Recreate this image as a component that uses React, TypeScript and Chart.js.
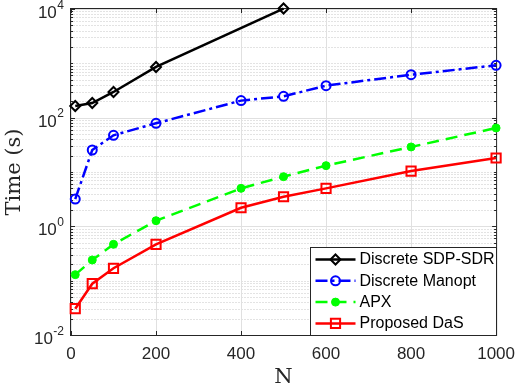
import React, { useEffect, useRef } from 'react';
import { Chart, registerables } from 'chart.js';

Chart.register(...registerables);

// ---- data ----
const N_SDP = [10, 50, 100, 200, 500];
const T_SDP = [164, 186, 297, 857, 10200];
const N_ALL = [10, 50, 100, 200, 400, 500, 600, 800, 1000];
const T_MANOPT = [3.18, 25.4, 47.4, 78.8, 206, 247, 388, 618, 920];
const T_APX = [0.129, 0.24, 0.467, 1.27, 5.0, 8.2, 13.1, 28.9, 64.6];
const T_DAS = [0.0305, 0.088, 0.169, 0.467, 2.2, 3.5, 5.0, 10.4, 18.1];

const SERIES_NAMES = ['Discrete SDP-SDR', 'Discrete Manopt', 'APX', 'Proposed DaS'];
const X_TICKS = [0, 200, 400, 600, 800, 1000];
const Y_LABEL_EXPONENTS = [-2, 0, 2, 4];
const X_TITLE = 'N';
const Y_TITLE = 'Time (s)';

// ---- styles ----
const SANS = '"Liberation Sans", Arial, Helvetica, sans-serif';
const SERIF = '"DejaVu Serif", "Liberation Serif", serif';
const AXIS_COLOR = '#262626';

type Marker = 'diamond' | 'circle' | 'square';
const STYLES: { color: string; dash: number[]; marker: Marker; filled: boolean; r: number; pbw: number }[] = [
  { color: '#000000', dash: [], marker: 'diamond', filled: false, r: 5, pbw: 2 },
  { color: '#0000ff', dash: [12, 4, 3, 4], marker: 'circle', filled: false, r: 4.5, pbw: 2 },
  { color: '#00ff00', dash: [12, 7], marker: 'circle', filled: true, r: 4, pbw: 1 },
  { color: '#ff0000', dash: [], marker: 'square', filled: false, r: 6.5, pbw: 2 },
];
const CHART_STYLE: Record<Marker, string> = { diamond: 'rectRot', circle: 'circle', square: 'rect' };

function drawMarker(ctx: CanvasRenderingContext2D, kind: Marker, x: number, y: number, r: number, color: string, filled: boolean, lw: number) {
  ctx.save();
  ctx.setLineDash([]);
  ctx.beginPath();
  if (kind === 'circle') {
    ctx.arc(x, y, r, 0, Math.PI * 2);
  } else if (kind === 'diamond') {
    ctx.moveTo(x, y - r);
    ctx.lineTo(x + r, y);
    ctx.lineTo(x, y + r);
    ctx.lineTo(x - r, y);
    ctx.closePath();
  } else {
    const s = r * Math.SQRT1_2;
    ctx.rect(x - s, y - s, 2 * s, 2 * s);
  }
  ctx.lineWidth = lw;
  ctx.strokeStyle = color;
  if (filled) {
    ctx.fillStyle = color;
    ctx.fill();
  }
  ctx.stroke();
  ctx.restore();
}

const decorPlugin = {
  id: 'decor',
  beforeDatasetsDraw(chart: any) {
    const { ctx, chartArea: a, scales } = chart;
    const xs = scales.x;
    const ys = scales.y;
    const L = a.left - 0.5, R = a.right + 0.5, T = a.top - 0.5, B = a.bottom + 0.5;
    ctx.save();
    ctx.lineWidth = 1;
    // minor horizontal grid (dotted)
    ctx.strokeStyle = '#c6c6c6';
    ctx.setLineDash([1, 2]);
    for (let k = -2; k <= 3; k++) {
      for (let m = 1; m <= 9; m++) {
        if (m === 1 && Math.abs(k) % 2 === 0) continue;
        const y = Math.round(ys.getPixelForValue(m * Math.pow(10, k))) + 0.5;
        ctx.beginPath();
        ctx.moveTo(L, y);
        ctx.lineTo(R, y);
        ctx.stroke();
      }
    }
    // major grid (solid)
    ctx.setLineDash([]);
    ctx.strokeStyle = '#e0e0e0';
    for (const e of Y_LABEL_EXPONENTS) {
      const y = Math.round(ys.getPixelForValue(Math.pow(10, e))) + 0.5;
      ctx.beginPath();
      ctx.moveTo(L, y);
      ctx.lineTo(R, y);
      ctx.stroke();
    }
    for (const v of X_TICKS) {
      const x = Math.round(xs.getPixelForValue(v)) + 0.5;
      ctx.beginPath();
      ctx.moveTo(x, T);
      ctx.lineTo(x, B);
      ctx.stroke();
    }
    // axes box
    ctx.strokeStyle = AXIS_COLOR;
    ctx.strokeRect(L, T, R - L, B - T);
    // ticks
    ctx.beginPath();
    for (const v of X_TICKS) {
      const x = Math.round(xs.getPixelForValue(v)) + 0.5;
      ctx.moveTo(x, B);
      ctx.lineTo(x, B - 4.5);
      ctx.moveTo(x, T);
      ctx.lineTo(x, T + 4.5);
    }
    for (let k = -2; k <= 4; k++) {
      for (let m = 1; m <= 9; m++) {
        if (k === 4 && m > 1) break;
        const major = m === 1 && Math.abs(k) % 2 === 0;
        const len = major ? 4.5 : 2.5;
        const y = Math.round(ys.getPixelForValue(m * Math.pow(10, k))) + 0.5;
        ctx.moveTo(L, y);
        ctx.lineTo(L + len, y);
        ctx.moveTo(R, y);
        ctx.lineTo(R - len, y);
      }
    }
    ctx.stroke();
    ctx.restore();
  },
  afterDraw(chart: any) {
    const { ctx, chartArea: a, scales } = chart;
    const ys = scales.y;
    ctx.save();
    // y tick labels with superscript exponents
    ctx.fillStyle = AXIS_COLOR;
    ctx.textAlign = 'right';
    ctx.textBaseline = 'alphabetic';
    const rightX = a.left - 7;
    for (const e of Y_LABEL_EXPONENTS) {
      const py = ys.getPixelForValue(Math.pow(10, e));
      const exp = e < 0 ? '-' + Math.abs(e) : String(e);
      ctx.font = `12px ${SANS}`;
      ctx.fillText(exp, rightX, py - 0.5);
      const w = ctx.measureText(exp).width;
      ctx.font = `17px ${SANS}`;
      ctx.fillText('10', rightX - w - 0.5, py + 9);
    }
    // legend box
    const W = 186, H = 88;
    const bx = Math.round(a.right - W) + 0.5;
    const by = Math.round(a.bottom - H) + 0.5;
    ctx.fillStyle = '#ffffff';
    ctx.fillRect(bx, by, W, H);
    ctx.strokeStyle = AXIS_COLOR;
    ctx.lineWidth = 1;
    ctx.strokeRect(bx, by, W, H);
    for (let i = 0; i < SERIES_NAMES.length; i++) {
      const st = STYLES[i];
      const cy = by + 12 + i * 21.3;
      ctx.save();
      ctx.strokeStyle = st.color;
      ctx.lineWidth = 2.5;
      ctx.setLineDash(st.dash);
      ctx.beginPath();
      ctx.moveTo(bx + 5, cy);
      ctx.lineTo(bx + 45, cy);
      ctx.stroke();
      ctx.restore();
      drawMarker(ctx, st.marker, bx + 25, cy, st.r, st.color, st.filled, st.pbw);
      ctx.fillStyle = '#000000';
      ctx.font = `16px ${SANS}`;
      ctx.textAlign = 'left';
      ctx.textBaseline = 'middle';
      ctx.fillText(SERIES_NAMES[i], bx + 49, cy + 0.5);
    }
    ctx.restore();
  },
};

export default function App() {
  const ref = useRef<HTMLCanvasElement>(null);
  useEffect(() => {
    document.body.style.margin = '0';
    const series = [
      N_SDP.map((x, i) => ({ x, y: T_SDP[i] })),
      N_ALL.map((x, i) => ({ x, y: T_MANOPT[i] })),
      N_ALL.map((x, i) => ({ x, y: T_APX[i] })),
      N_ALL.map((x, i) => ({ x, y: T_DAS[i] })),
    ];
    const datasets = series.map((data, i) => {
      const st = STYLES[i];
      return {
        label: SERIES_NAMES[i],
        data,
        borderColor: st.color,
        backgroundColor: st.color,
        borderWidth: 2.5,
        borderDash: st.dash,
        tension: 0,
        fill: false,
        clip: false as any,
        pointStyle: CHART_STYLE[st.marker],
        pointRadius: st.r,
        pointBorderWidth: st.pbw,
        pointBorderColor: st.color,
        pointBackgroundColor: st.filled ? st.color : 'rgba(0,0,0,0)',
      };
    });
    const chart = new Chart(ref.current!, {
      type: 'line',
      data: { datasets },
      options: {
        animation: false,
        responsive: true,
        maintainAspectRatio: false,
        layout: { padding: { left: 0, right: 21, top: 9, bottom: 0 } },
        plugins: { legend: { display: false }, tooltip: { enabled: false } },
        scales: {
          x: {
            type: 'linear',
            min: 0,
            max: 1000,
            afterBuildTicks: (s: any) => {
              s.ticks = X_TICKS.map((v) => ({ value: v }));
            },
            grid: { display: false, drawTicks: false },
            border: { display: false },
            ticks: {
              autoSkip: false,
              maxRotation: 0,
              padding: 9,
              color: AXIS_COLOR,
              font: { family: SANS, size: 17 },
              callback: (v: any) => String(v),
            },
            title: {
              display: true,
              text: X_TITLE,
              color: AXIS_COLOR,
              font: { family: SERIF, size: 21, lineHeight: 1 },
              padding: { top: 0, bottom: 0 },
            },
            afterFit: (s: any) => {
              s.height = 53;
            },
          },
          y: {
            type: 'logarithmic',
            min: 1e-2,
            max: 1e4,
            grid: { display: false, drawTicks: false },
            border: { display: false },
            ticks: { display: false },
            title: {
              display: true,
              text: Y_TITLE,
              color: AXIS_COLOR,
              font: { family: SERIF, size: 21, lineHeight: 1 },
              padding: { top: 4, bottom: 0 },
            },
            afterFit: (s: any) => {
              s.width = 71;
            },
          },
        },
      },
      plugins: [decorPlugin],
    });
    return () => chart.destroy();
  }, []);
  return (
    <div style={{ position: 'relative', width: 524, height: 388 }}>
      <canvas ref={ref} />
    </div>
  );
}
